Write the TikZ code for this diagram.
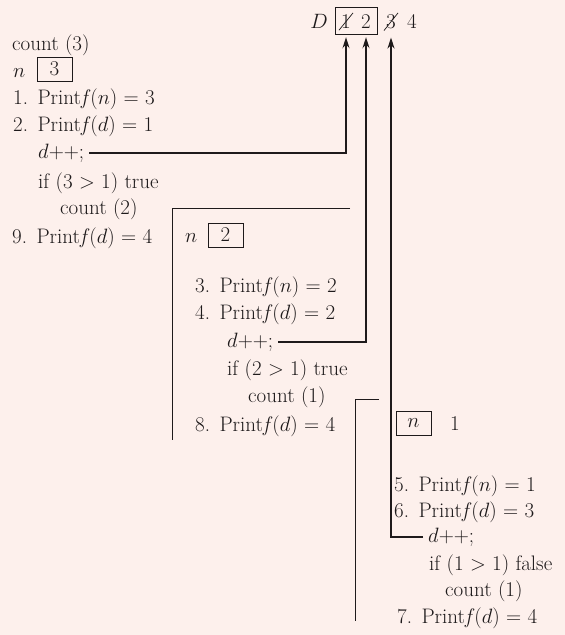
\documentclass[tikz,border=0pt]{standalone}
\usepackage{amsmath,amssymb}
\usepackage{tikz}
\usetikzlibrary{arrows.meta}
\usetikzlibrary{fit}
\definecolor{paper}{RGB}{253,240,236}
\definecolor{ink}{RGB}{30,26,27}

\begin{document}
\begin{tikzpicture}[x=1pt,y=-1pt,font=\fontsize{21}{25}\selectfont,color=ink]
\tikzset{txt/.style={anchor=base west,inner sep=0pt},
  cell/.style={anchor=base,inner sep=0pt},
  valbox/.style={draw,line width=0.8pt,minimum width=35pt,minimum height=24pt,inner sep=0pt},
  link/.style={-{Stealth[length=11pt,width=7pt]},line width=1.4pt,shorten <=5pt,shorten >=9pt},
  frame/.style={line width=0.9pt}}
\fill[paper] (0,0) rectangle (565,635);
\useasboundingbox (0,0) rectangle (565,635);

\node (D) at (319,28) [cell] {$D$};
\node (d1) at (346,28) [cell] {1};
\node (d2) at (366,28) [cell] {2};
\node (d3) at (391,28) [cell] {3};
\node (d4) at (412,28) [cell] {4};
\node (mem) [draw,line width=0.8pt,fit=(d1)(d2),inner xsep=6pt,inner ysep=6.5pt] {};
\draw[line width=0.7pt] ([shift={(-2,2)}]d1.south west) -- ([shift={(2,-1)}]d1.north east);
\draw[line width=0.7pt] ([shift={(-2,2)}]d3.south west) -- ([shift={(2,-1)}]d3.north east);

\node (c3) at (12,50) [txt] {count (3)};
\node (n3) at (13,77) [txt] {$n$};
\node (b3) at (54.5,69) [valbox] {3};
\node (p1) at (13,104) [txt] {1.\hspace{0.45em}Print\textit{f}($n$) = 3};
\node (p2) at (13,131) [txt] {2.\hspace{0.45em}Print\textit{f}($d$) = 1};
\node (inc1) at (38,158) [txt] {$d$++;};
\node (if1) at (38,188) [txt] {if (3 $>$ 1) true};
\node (c2) at (60,214) [txt] {count (2)};
\node (p9) at (12,243) [txt] {9.\hspace{0.45em}Print\textit{f}($d$) = 4};

\node (n2) at (185,242) [txt] {$n$};
\node (b2) at (225.5,235) [valbox] {2};
\node (p3) at (195,292) [txt] {3.\hspace{0.45em}Print\textit{f}($n$) = 2};
\node (p4) at (195,319) [txt] {4.\hspace{0.45em}Print\textit{f}($d$) = 2};
\node (inc2) at (227,347) [txt] {$d$++;};
\node (if2) at (227,375) [txt] {if (2 $>$ 1) true};
\node (c1) at (248,402) [txt] {count (1)};
\node (p8) at (195,431) [txt] {8.\hspace{0.45em}Print\textit{f}($d$) = 4};

\node (b1) at (413.5,423.5) [valbox] {$n$};
\node (v1) at (450,430) [txt] {1};
\node (p5) at (394,491) [txt] {5.\hspace{0.45em}Print\textit{f}($n$) = 1};
\node (p6) at (394,517) [txt] {6.\hspace{0.45em}Print\textit{f}($d$) = 3};
\node (inc3) at (428,542) [txt] {$d$++;};
\node (if3) at (429,570) [txt] {if (1 $>$ 1) false};
\node (c0) at (445,596) [txt] {count (1)};
\node (p7) at (397,623) [txt] {7.\hspace{0.45em}Print\textit{f}($d$) = 4};

\draw[frame] (350,208) -- (172,208) -- (172,440);
\draw[frame] (379,399) -- (355,399) -- (355,621);

\draw[link] (inc1.east) -| (d1.south);
\draw[link] (inc2.east) -| (d2.south);
\draw[link] (inc3.west) -| (d3.south);
\end{tikzpicture}
\end{document}
